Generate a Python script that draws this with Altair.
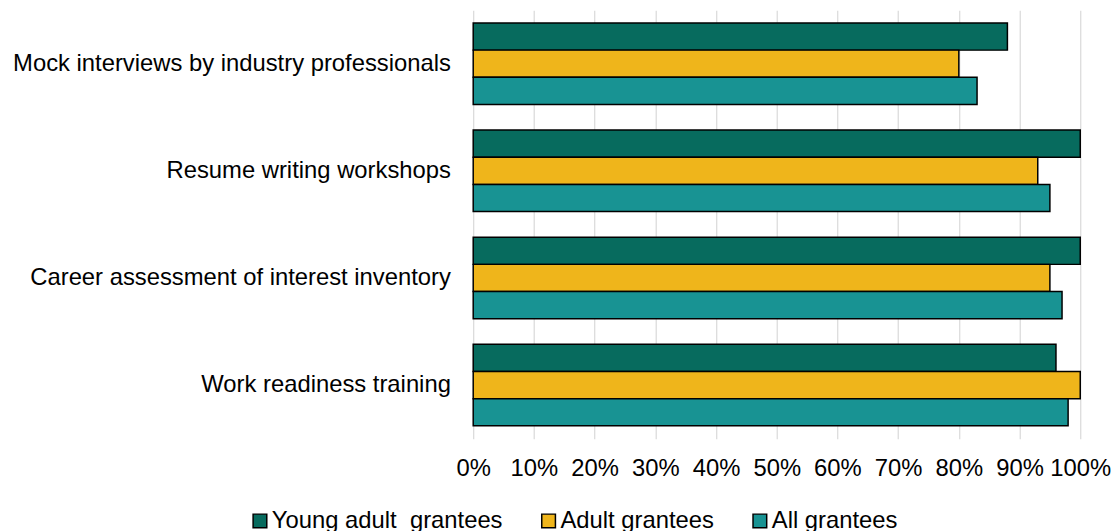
import altair as alt
import pandas as pd

categories = [
    "Mock interviews by industry professionals",
    "Resume writing workshops",
    "Career assessment of interest inventory",
    "Work readiness training",
]
series = ["Young adult \u00a0grantees", "Adult grantees", "All grantees"]
young_adult = [0.88, 1.00, 1.00, 0.96]
adult = [0.80, 0.93, 0.95, 1.00]
all_grantees = [0.83, 0.95, 0.97, 0.98]
colors = ["#076B5E", "#EFB51B", "#189393"]

rows = []
for i, c in enumerate(categories):
    for s, vals in zip(series, [young_adult, adult, all_grantees]):
        rows.append({"category": c, "series": s, "value": vals[i]})
df = pd.DataFrame(rows)

FONT = "Liberation Sans"
FS = 24

chart = (
    alt.Chart(df)
    .mark_bar(stroke="black", strokeWidth=1.5)
    .encode(
        y=alt.Y(
            "category:N",
            sort=categories,
            title=None,
            scale=alt.Scale(paddingInner=0.24, paddingOuter=0.12),
            axis=alt.Axis(
                domain=False, ticks=False, labelFontSize=FS, labelColor="black",
                labelPadding=23, labelLimit=700, labelFont=FONT,
            ),
        ),
        yOffset=alt.YOffset("series:N", sort=series),
        x=alt.X(
            "value:Q",
            title=None,
            scale=alt.Scale(domain=[0, 1], nice=False),
            axis=alt.Axis(
                values=[i / 10 for i in range(11)], format=".0%", domain=False,
                ticks=False, grid=True, gridColor="#d9d9d9", gridWidth=1.2,
                labelFontSize=FS, labelColor="black", labelPadding=18, labelFont=FONT,
                labelOverlap=False, labelFlush=False,
            ),
        ),
        color=alt.Color(
            "series:N",
            sort=series,
            scale=alt.Scale(domain=series, range=colors),
            legend=alt.Legend(
                title=None, orient="none", direction="horizontal",
                legendX=-227, legendY=503,
                symbolType="square", symbolSize=190, symbolStrokeColor="black",
                symbolStrokeWidth=1.5, labelFontSize=FS, labelColor="black",
                labelFont=FONT, columnPadding=34, labelOffset=0,
                labelLimit=500,
            ),
        ),
    )
    .properties(
        width=612, height=432,
        padding={"left": 4, "top": 0, "right": 0, "bottom": 0},
    )
    .configure_view(stroke=None)
)

chart.save("out.html", embed_options={"renderer": "svg", "actions": False})
